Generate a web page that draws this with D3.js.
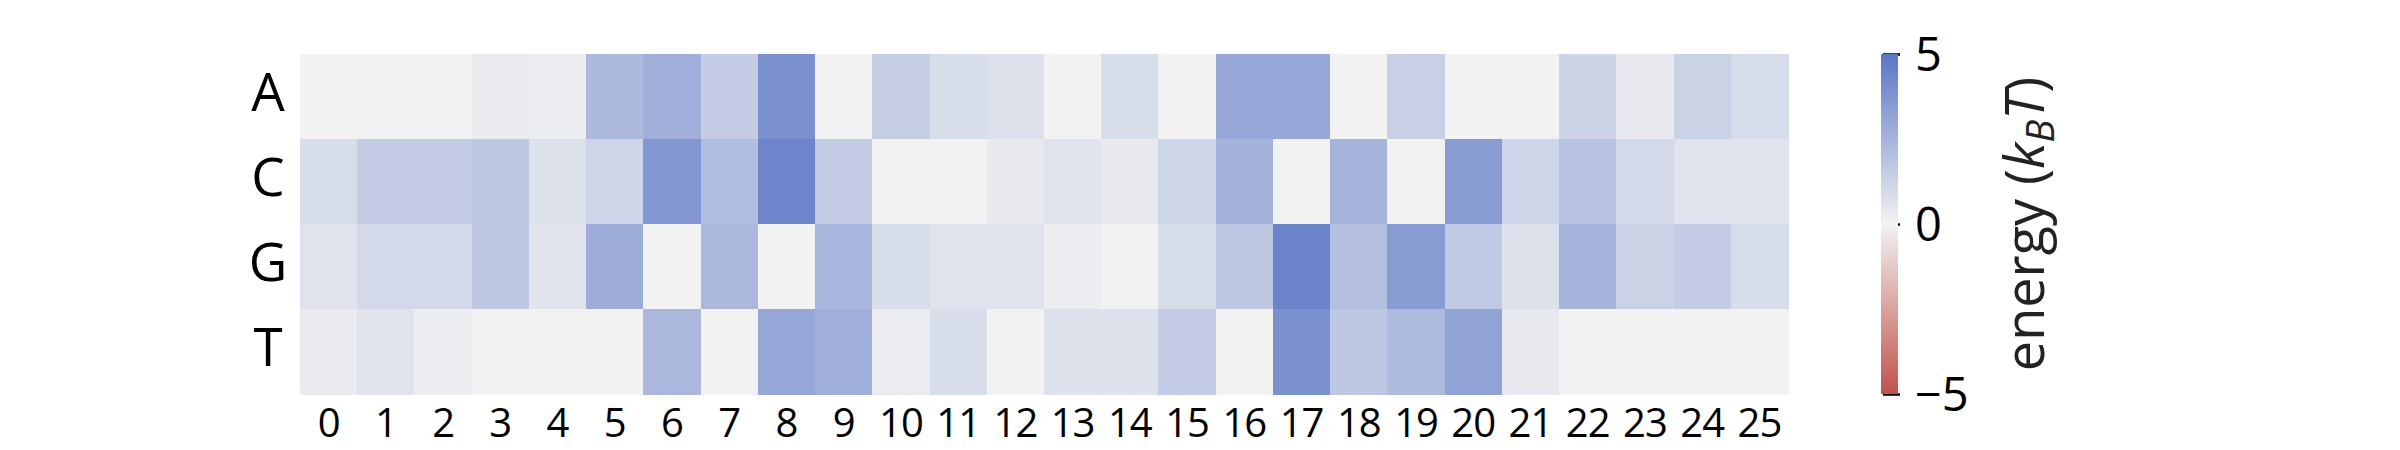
<!DOCTYPE html>
<html>
<head>
<meta charset="utf-8">
<script src="https://cdn.jsdelivr.net/npm/d3@7"></script>
<style>
  html, body { margin: 0; padding: 0; background: #ffffff; }
  svg { display: block; }
  text { font-family: "Open Sans", "Noto Sans", sans-serif; fill: #000; }
</style>
</head>
<body>
<svg id="chart" width="2400" height="450"></svg>
<script>
// ---- data ----
const bases = ["A", "C", "G", "T"];
const positions = ["0","1","2","3","4","5","6","7","8","9","10","11","12","13","14","15","16","17","18","19","20","21","22","23","24","25"];
const energyA = [0, 0, 0, 0.3, 0.2, 2.3, 2.7, 1.5, 3.9, 0, 1.4, 0.85, 0.7, 0, 0.85, 0, 3.0, 3.0, 0, 1.35, 0, 0, 1.2, 0.35, 1.3, 0.9];
const energyC = [0.85, 1.5, 1.5, 1.7, 0.7, 1.15, 3.7, 2.1, 4.35, 1.55, 0, 0, 0.35, 0.6, 0.35, 1.15, 2.6, 0, 2.5, 0, 3.5, 1.15, 1.9, 1.0, 0.6, 0.6];
const energyG = [0.6, 1.0, 1.0, 1.7, 0.55, 2.8, 0, 2.35, 0, 2.45, 0.85, 0.6, 0.6, 0.2, 0, 0.85, 1.7, 4.4, 2.0, 3.5, 1.6, 0.7, 2.5, 1.3, 1.5, 0.85];
const energyT = [0.3, 0.55, 0.15, 0, 0, 0, 2.35, 0, 3.0, 2.7, 0.25, 0.85, 0, 0.65, 0.65, 1.5, 0, 3.9, 1.7, 2.25, 3.2, 0.35, 0, 0, 0, 0];
const colorbarTicks = [-5, 0, 5];
const colorDomain = [-5, 0, 5];

const rowsData = { A: energyA, C: energyC, G: energyG, T: energyT };
const cells = [];
bases.forEach(b => rowsData[b].forEach((v, i) => cells.push({ base: b, pos: positions[i], value: v })));

// ---- layout ----
const svg = d3.select("#chart");
const hm = { left: 300, right: 1788, top: 54, bottom: 394 };
const cb = { left: 1881, width: 17 };

const x = d3.scaleBand().domain(positions).range([hm.left, hm.right]).padding(0);
const y = d3.scaleBand().domain(bases).range([hm.top, hm.bottom]).padding(0);
const color = d3.scaleLinear()
  .domain(colorDomain)
  .range(["rgb(192,82,76)", "rgb(242,242,242)", "rgb(90,117,197)"])
  .interpolate(d3.interpolateRgb)
  .clamp(true);

// heatmap cells
svg.append("g").selectAll("rect").data(cells).join("rect")
  .attr("x", d => x(d.pos))
  .attr("y", d => y(d.base))
  .attr("width", x.bandwidth() + 0.5)
  .attr("height", y.bandwidth() + 0.5)
  .attr("fill", d => color(d.value))
  .attr("shape-rendering", "crispEdges");

// x axis
const xAxis = svg.append("g")
  .attr("transform", `translate(0,${hm.bottom})`)
  .call(d3.axisBottom(x).tickSize(0).tickPadding(0));
xAxis.select(".domain").remove();
xAxis.selectAll("text")
  .attr("y", 43).attr("dy", null)
  .style("font-size", "40px")
  .style("letter-spacing", "-1px")
  .style("font-family", '"Open Sans", sans-serif');

// y axis (row labels)
const yAxis = svg.append("g")
  .attr("transform", `translate(${hm.left},0)`)
  .call(d3.axisLeft(y).tickSize(0).tickPadding(0));
yAxis.select(".domain").remove();
yAxis.selectAll("text")
  .attr("x", -32).attr("dy", null).attr("y", 14)
  .attr("text-anchor", "middle")
  .style("font-size", "53px")
  .style("font-family", '"Open Sans", sans-serif');

// colorbar
const cbScale = d3.scaleLinear().domain([colorDomain[0], colorDomain[2]]).range([hm.bottom, hm.top]);
const cbAxis = svg.append("g")
  .attr("transform", `translate(${cb.left + 2},0)`)
  .call(d3.axisRight(cbScale).tickValues(colorbarTicks).tickSize(17).tickPadding(15)
        .tickFormat(d3.format("d")));
cbAxis.select(".domain").remove();
cbAxis.selectAll("line").attr("stroke", "#000").attr("stroke-width", 2.5);
cbAxis.selectAll("text")
  .attr("dy", "0.36em")
  .style("font-size", "47px")
  .style("font-family", '"Open Sans", sans-serif');

const defs = svg.append("defs");
const grad = defs.append("linearGradient").attr("id", "cbgrad")
  .attr("x1", 0).attr("y1", 1).attr("x2", 0).attr("y2", 0);
d3.range(0, 1.0001, 0.05).forEach(t => {
  const v = colorDomain[0] + t * (colorDomain[2] - colorDomain[0]);
  grad.append("stop").attr("offset", t).attr("stop-color", color(v));
});
svg.append("rect")
  .attr("x", cb.left).attr("y", cbScale(colorDomain[2]))
  .attr("width", cb.width)
  .attr("height", cbScale(colorDomain[0]) - cbScale(colorDomain[2]))
  .attr("fill", "url(#cbgrad)");

// colorbar label
const lab = svg.append("text")
  .attr("transform", `translate(2044,${(hm.top + hm.bottom) / 2}) rotate(-90)`)
  .attr("text-anchor", "middle")
  .style("font-size", "54px")
  .style("fill", "#222");
lab.append("tspan").text("energy (");
lab.append("tspan").style("font-style", "italic").text("k");
lab.append("tspan").style("font-style", "italic").style("font-size", "38px").attr("dy", "10").text("B");
lab.append("tspan").style("font-style", "italic").attr("dy", "-10").text("T");
lab.append("tspan").text(")");
</script>
</body>
</html>
